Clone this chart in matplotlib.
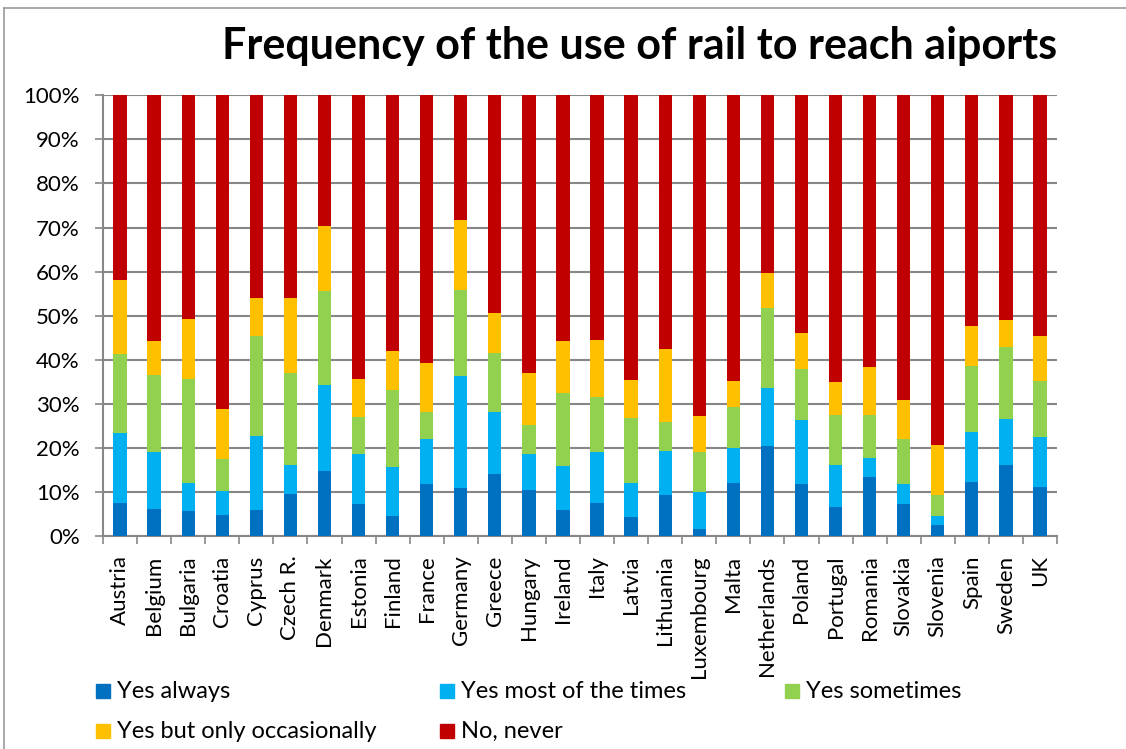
import numpy as np
import matplotlib
matplotlib.use('Agg')
import matplotlib.pyplot as plt
from matplotlib.lines import Line2D
from matplotlib.patches import Rectangle

# data (percent of respondents per country)
countries = ['Austria', 'Belgium', 'Bulgaria', 'Croatia', 'Cyprus', 'Czech R.', 'Denmark',
             'Estonia', 'Finland', 'France', 'Germany', 'Greece', 'Hungary', 'Ireland',
             'Italy', 'Latvia', 'Lithuania', 'Luxembourg', 'Malta', 'Netherlands', 'Poland',
             'Portugal', 'Romania', 'Slovakia', 'Slovenia', 'Spain', 'Sweden', 'UK']
yes_always = [7.6, 6.1, 5.6, 4.7, 5.8, 9.5, 14.7, 7.2, 4.5, 11.9, 10.8, 14.1, 10.5, 5.9,
              7.6, 4.2, 9.2, 1.7, 12.1, 20.4, 11.7, 6.5, 13.5, 7.3, 2.4, 12.3, 16.0, 11.2]
yes_most = [15.8, 13.0, 6.4, 5.6, 16.9, 6.5, 19.5, 11.3, 11.2, 10.2, 25.6, 14.1, 8.2, 9.9,
            11.5, 7.9, 10.0, 8.2, 7.9, 13.1, 14.6, 9.5, 4.1, 4.5, 2.1, 11.2, 10.5, 11.3]
yes_sometimes = [17.9, 17.5, 23.6, 7.1, 22.7, 20.9, 21.5, 8.6, 17.4, 6.0, 19.4, 13.3, 6.6, 16.6,
                 12.4, 14.7, 6.7, 9.1, 9.3, 18.2, 11.5, 11.4, 9.8, 10.2, 4.8, 15.0, 16.3, 12.6]
yes_occasionally = [16.9, 7.7, 13.6, 11.5, 8.6, 17.0, 14.6, 8.5, 8.8, 11.2, 15.8, 9.1, 11.6, 11.8,
                    12.9, 8.5, 16.6, 8.3, 5.9, 7.9, 8.2, 7.5, 11.0, 8.9, 11.4, 9.2, 6.1, 10.2]
no_never = [41.8, 55.7, 50.8, 71.1, 46.0, 46.1, 29.7, 64.4, 58.1, 60.7, 28.4, 49.4, 63.1, 55.8,
            55.6, 64.7, 57.5, 72.7, 64.8, 40.4, 54.0, 65.1, 61.6, 69.1, 79.3, 52.3, 51.1, 54.7]

series_names = ['Yes always', 'Yes most of the times', 'Yes sometimes',
                'Yes but only occasionally', 'No, never']
series = [yes_always, yes_most, yes_sometimes, yes_occasionally, no_never]
colors = ['#0070C0', '#00B0F0', '#92D050', '#FFC000', '#C00000']

plt.rcParams['font.family'] = ['Lato', 'DejaVu Sans']
grid_col = '#878787'

W, H = 1126, 749
fig = plt.figure(figsize=(W / 100, H / 100), dpi=100)
ax = fig.add_axes([103 / W, 1 - 536 / H, 954 / W, 440.7 / H])

x = np.arange(len(countries))
bottom = np.zeros(len(countries))
for vals, c in zip(series, colors):
    v = np.array(vals)
    ax.bar(x, v, width=0.39, bottom=bottom, color=c, zorder=3)
    bottom += v

ax.set_xlim(-0.5, len(countries) - 0.5)
ax.set_ylim(0, 100)
ax.set_yticks(np.arange(0, 101, 10))
ax.set_yticklabels([f'{t}%' for t in range(0, 101, 10)], fontsize=16)
ax.yaxis.grid(True, color=grid_col, linewidth=1.5, zorder=0)
ax.tick_params(axis='y', length=5.8, width=1.2, color=grid_col, pad=11)

ax.set_xticks(x)
ax.set_xticklabels(countries, rotation=90, fontsize=16)
ax.set_xticks(np.arange(-0.5, len(countries)), minor=True)
ax.tick_params(axis='x', which='major', length=0, pad=14)
ax.tick_params(axis='x', which='minor', length=5.8, width=1.2, color=grid_col)

for s in ['top', 'right']:
    ax.spines[s].set_visible(False)
for s in ['left', 'bottom']:
    ax.spines[s].set_color(grid_col)
    ax.spines[s].set_linewidth(1.5)

# title
fig.text(1057 / W, 1 - 46 / H, 'Frequency of the use of rail to reach aiports',
         ha='right', va='center', fontsize=31, fontweight='bold')

# legend laid out row-wise like the original
col_x = [96, 440, 785]
row_y = [691, 731]
for i, (name, c) in enumerate(zip(series_names, colors)):
    px = col_x[i % 3]
    py = row_y[i // 3]
    fig.patches.append(Rectangle((px / W, 1 - (py + 7) / H), 14 / W, 14 / H,
                                 transform=fig.transFigure, color=c, figure=fig))
    fig.text((px + 21) / W, 1 - py / H, name, ha='left', va='center', fontsize=17)

# outer chart border (left and top edges visible)
fig.lines.append(Line2D([4 / W, 4 / W], [0, 1 - 8 / H], transform=fig.transFigure,
                        color='#9a9a9a', linewidth=1.2))
fig.lines.append(Line2D([4 / W, 1], [1 - 8 / H, 1 - 8 / H], transform=fig.transFigure,
                        color='#9a9a9a', linewidth=1.2))

fig.savefig('out.png', dpi=100)
